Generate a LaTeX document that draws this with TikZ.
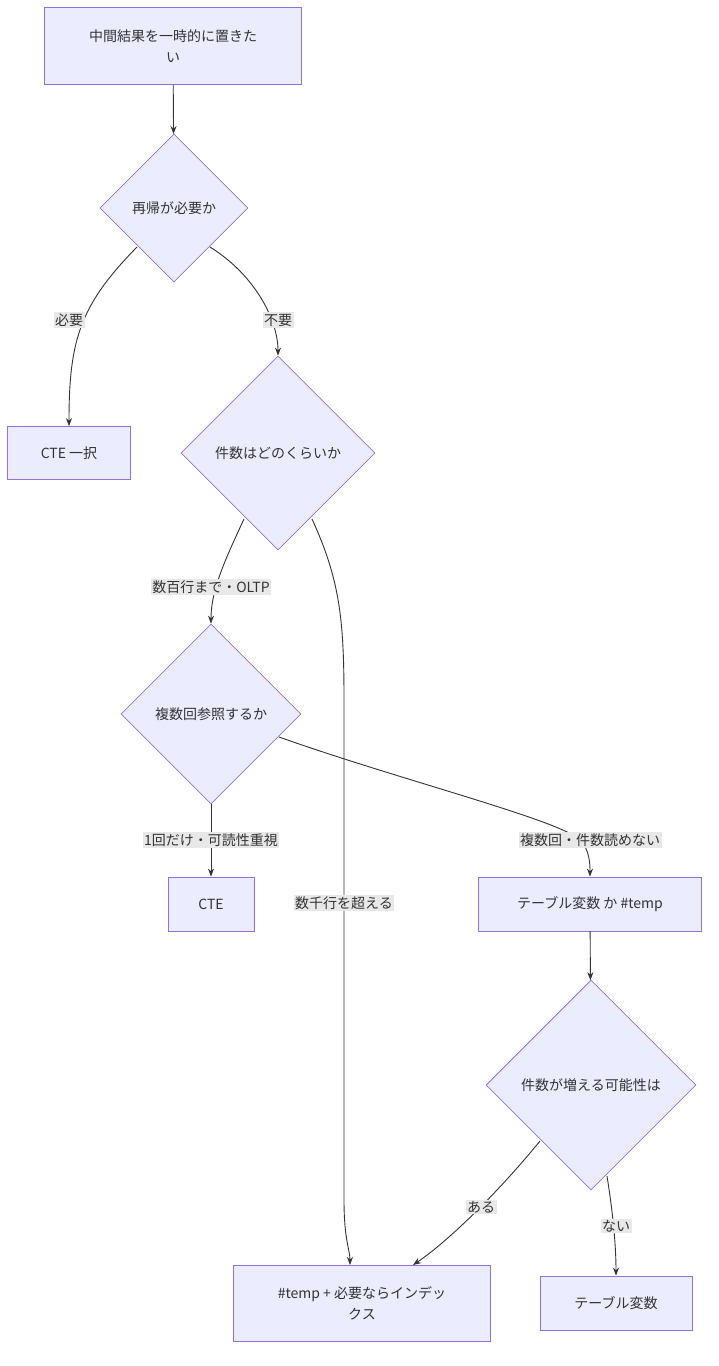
\documentclass[tikz,border=0pt]{standalone}
\usepackage{fontspec}
\setmainfont{Noto Sans CJK JP}
\usetikzlibrary{shapes.geometric,arrows.meta}
\definecolor{nfill}{HTML}{ECECFF}
\definecolor{nstroke}{HTML}{9370DB}
\definecolor{edge}{HTML}{333333}
\definecolor{lbg}{HTML}{E8E8E8}
\begin{document}
\begin{tikzpicture}[x=1pt,y=-1pt,
  every node/.style={font=\fontsize{14pt}{21pt}\selectfont, text=edge},
  box/.style={draw=nstroke, fill=nfill, line width=0.8pt, inner sep=0pt, align=center},
  dia/.style={draw=nstroke, fill=nfill, line width=0.8pt, shape=diamond, inner sep=0pt, align=center},
  conn/.style={draw=edge, line width=0.9pt, -{Stealth[length=8pt,width=6pt]}},
  lab/.style={fill=lbg, inner sep=1.5pt, font=\fontsize{14pt}{17pt}\selectfont}]
\useasboundingbox (0,0) rectangle (718,1366);
\fill[white] (0,0) rectangle (718,1366);
\node[box, minimum width=257pt, minimum height=77pt] (A) at (173,46) {中間結果を一時的に置きた\\い};
\node[dia, minimum width=148pt, minimum height=148pt] (B) at (174,208) {再帰が必要か};
\node[box, minimum width=123pt, minimum height=53pt] (C) at (69,453) {CTE 一択};
\node[dia, minimum width=194pt, minimum height=194pt] (D) at (278,453) {件数はどのくらいか};
\node[dia, minimum width=180pt, minimum height=180pt] (E) at (211,714) {複数回参照するか};
\node[box, minimum width=86pt, minimum height=54pt] (F) at (211,904) {CTE};
\node[box, minimum width=223pt, minimum height=54pt] (G) at (590,904) {テーブル変数 か \#temp};
\node[dia, minimum width=210pt, minimum height=210pt] (H) at (591,1085) {件数が増える可能性は};
\node[box, minimum width=257pt, minimum height=76pt] (I) at (362,1303) {\#temp + 必要ならインデッ\\クス};
\node[box, minimum width=152pt, minimum height=54pt] (J) at (616,1303) {テーブル変数};
\coordinate (b1) at (137,247); \coordinate (b2) at (210,247);
\coordinate (d1) at (244,519); \coordinate (d2) at (312,519);
\coordinate (e1) at (279,737); \coordinate (h1) at (540,1141); \coordinate (h2) at (607,1176);
\draw[conn] (A) -- (B);
\draw[conn] (b1) .. controls (80,305) and (69,340) .. (C.north);
\draw[conn] (b2) .. controls (255,275) and (278,320) .. (D.north);
\draw[conn] (d1) .. controls (225,560) and (211,590) .. (E.north);
\draw[conn] (d2) .. controls (340,580) and (344,620) .. (344,700) -- (344,1200) .. controls (344,1240) and (350,1250) .. (350,1265);
\draw[conn] (E.south) -- (F.north);
\draw[conn] (e1) .. controls (400,780) and (560,820) .. (580,840) .. controls (590,850) and (590,865) .. (G.north);
\draw[conn] (G) -- (H);
\draw[conn] (h1) .. controls (500,1190) and (450,1240) .. (413,1265);
\draw[conn] (h2) .. controls (614,1220) and (616,1250) .. (J.north);
\node[lab] (l1) at (69,320) {必要};
\node[lab] (l2) at (278,320) {不要};
\node[lab] (l3) at (211,587) {数百行まで・OLTP};
\node[lab] (l4) at (344,903) {数千行を超える};
\node[lab] (l5) at (211,840) {1回だけ・可読性重視};
\node[lab] (l6) at (590,840) {複数回・件数読めない};
\node[lab] (l7) at (481,1207) {ある};
\node[lab] (l8) at (616,1226) {ない};
\end{tikzpicture}
\end{document}
